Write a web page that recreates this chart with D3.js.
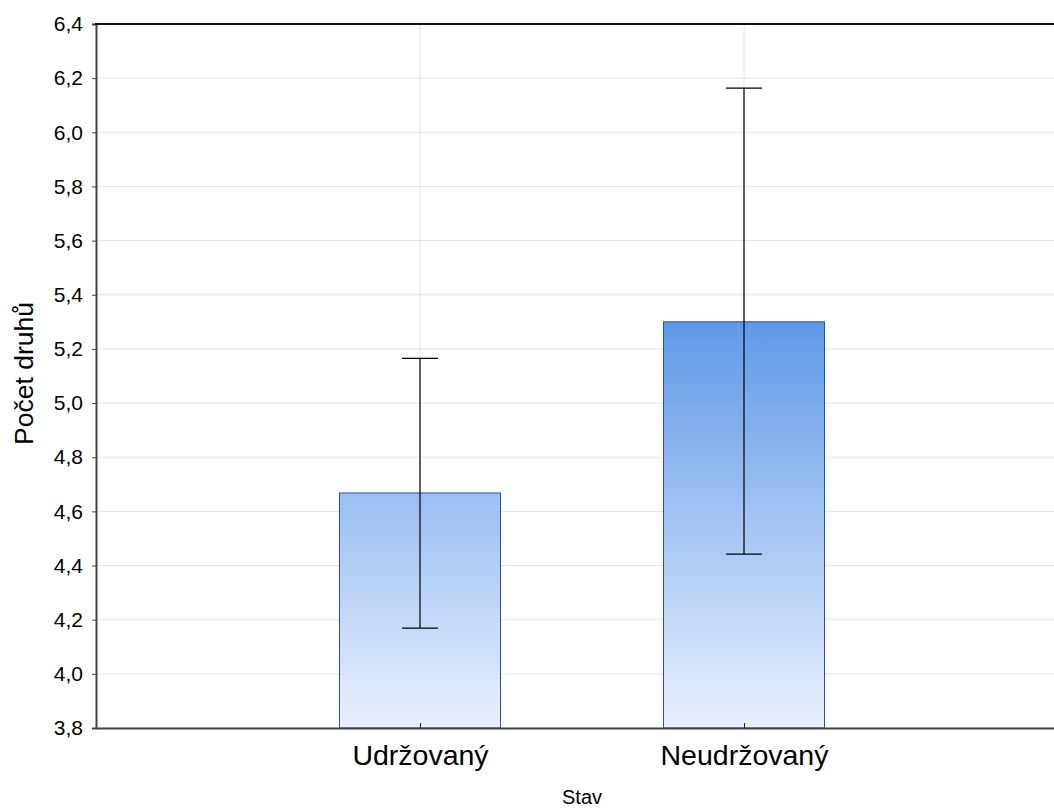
<!DOCTYPE html>
<html><head><meta charset="utf-8">
<script src="https://cdn.jsdelivr.net/npm/d3@7/dist/d3.min.js"></script>
<style>body{margin:0;background:#fff}svg{display:block;font-family:"Liberation Sans",Arial,sans-serif}</style>
</head><body>
<svg id="c" width="1054" height="810"></svg>
<script>
const categories = ["Udržovaný", "Neudržovaný"];
const means = [4.668, 5.30];
const upper = [5.165, 6.163];
const lower = [4.169, 4.442];
const yTicks = [3.8, 4.0, 4.2, 4.4, 4.6, 4.8, 5.0, 5.2, 5.4, 5.6, 5.8, 6.0, 6.2, 6.4];
const xTitle = "Stav";
const yTitle = "Počet druhů";

const svg = d3.select("#c");
const L = 96, R = 1068, T = 24, B = 728;
const y = d3.scaleLinear().domain([3.8, 6.4]).range([B, T]);
const x = d3.scalePoint().domain(categories).range([L, R]).padding(1);
const fmt = d => d.toFixed(1).replace(".", ",");
const FF = "Liberation Sans, Arial, sans-serif";

const defs = svg.append("defs");
const g = defs.append("linearGradient").attr("id", "gr").attr("gradientUnits", "userSpaceOnUse")
  .attr("x1", 0).attr("x2", 0).attr("y1", y(3.8)).attr("y2", y(5.3));
g.append("stop").attr("offset", 0).attr("stop-color", "#e9f0fc");
g.append("stop").attr("offset", 1).attr("stop-color", "#5e9ae8");

// grid
svg.append("g").selectAll("line").data(yTicks).join("line")
  .attr("x1", L).attr("x2", 1054).attr("y1", d => y(d)).attr("y2", d => y(d))
  .attr("stroke", "#e2e2e2").attr("stroke-width", 1);
svg.append("g").selectAll("line").data(categories).join("line")
  .attr("x1", d => x(d)).attr("x2", d => x(d))
  .attr("y1", T).attr("y2", B).attr("stroke", "#e2e2e2");

// bars
const bw = x.step() * 0.497;
svg.append("g").selectAll("rect").data(categories).join("rect")
  .attr("x", d => x(d) - bw / 2)
  .attr("width", bw)
  .attr("y", (d, i) => y(means[i]))
  .attr("height", (d, i) => B - y(means[i]))
  .attr("fill", "url(#gr)").attr("stroke", "#2b47c4").attr("stroke-width", 1);

// error bars
const eb = svg.append("g").attr("stroke", "#000").attr("stroke-width", 1.2);
categories.forEach((c, i) => {
  const cx = x(c);
  eb.append("line").attr("x1", cx).attr("x2", cx).attr("y1", y(upper[i])).attr("y2", y(lower[i]));
  eb.append("line").attr("x1", cx - 18).attr("x2", cx + 18).attr("y1", y(upper[i])).attr("y2", y(upper[i]));
  eb.append("line").attr("x1", cx - 18).attr("x2", cx + 18).attr("y1", y(lower[i])).attr("y2", y(lower[i]));
});

// axes
const ya = svg.append("g").attr("transform", `translate(${L},0)`)
  .call(d3.axisLeft(y).tickValues(yTicks).tickFormat(fmt).tickSize(4).tickPadding(9));
ya.select(".domain").attr("stroke", "#444").attr("stroke-width", 2);
ya.selectAll(".tick line").attr("stroke", "#444");
ya.selectAll("text").attr("font-size", 21).attr("fill", "#000").attr("font-family", FF);

const xa = svg.append("g").attr("transform", `translate(0,${B})`)
  .call(d3.axisBottom(x).tickSizeInner(-5).tickSizeOuter(0).tickPadding(17));
xa.select(".domain").attr("stroke", "#444").attr("stroke-width", 2);
xa.selectAll(".tick line").attr("stroke", "#222");
xa.selectAll("text").attr("font-size", 28.5).attr("fill", "#000").attr("font-family", FF);

svg.append("line").attr("x1", L - 1).attr("x2", 1054).attr("y1", T).attr("y2", T).attr("stroke", "#111").attr("stroke-width", 2);

svg.append("text").attr("x", 582).attr("y", 804).attr("text-anchor", "middle")
  .attr("font-size", 20).text(xTitle);
svg.append("text").attr("transform", `translate(33,${(300 + 447) / 2}) rotate(-90)`).attr("text-anchor", "middle")
  .attr("font-size", 26.5).text(yTitle);
</script>
</body></html>
